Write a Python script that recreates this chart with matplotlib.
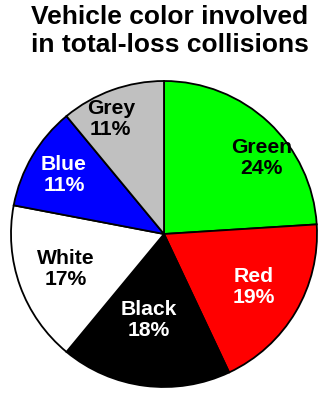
import numpy as np
import matplotlib
matplotlib.use("Agg")
import matplotlib.pyplot as plt

categories = ["Green", "Red", "Black", "White", "Blue", "Grey"]
values = [24, 19, 18, 17, 11, 11]
colors = ["#00FF00", "#FF0000", "#000000", "#FFFFFF", "#0000FF", "#C0C0C0"]
text_colors = ["black", "white", "white", "black", "white", "black"]
title_lines = ["Vehicle color involved", "in total-loss collisions"]

# label placement (fraction of radius, angular nudge in degrees)
label_r = [0.81, 0.68, 0.57, 0.68, 0.76, 0.83]
label_nudge = [-9, 0, -3, 0, 0, 5]

W, H = 330, 394
fig = plt.figure(figsize=(W / 100, H / 100), dpi=100)
ax = fig.add_axes([0, 0, 1, 1])
ax.set_xlim(0, W)
ax.set_ylim(0, H)
ax.set_aspect("equal")
ax.axis("off")

cx, cy, R = 164, H - 234, 153
wedges, _ = ax.pie(values, colors=colors, startangle=90, counterclock=False,
                   center=(cx, cy), radius=R,
                   wedgeprops=dict(edgecolor="black", linewidth=1.3))
ax.set_xlim(0, W)
ax.set_ylim(0, H)

fam = ["Liberation Sans", "DejaVu Sans"]
for w, cat, v, tc, rf, nd in zip(wedges, categories, values, text_colors, label_r, label_nudge):
    ang = np.deg2rad((w.theta1 + w.theta2) / 2 + nd)
    x = cx + rf * R * np.cos(ang)
    y = cy + rf * R * np.sin(ang)
    t = ax.text(x, y, f"{cat}\n{v}%", ha="center", va="center", color=tc,
                fontsize=15.2, fontweight="bold", family=fam, linespacing=1.15,
                zorder=3)
    t.set_clip_path(w)

fig.text(170 / W, 1 - 17 / H, title_lines[0], ha="center", va="center",
         fontsize=19, fontweight="bold", family=fam)
fig.text(170 / W, 1 - 45 / H, title_lines[1], ha="center", va="center",
         fontsize=19, fontweight="bold", family=fam)

fig.savefig("out.png", dpi=100, facecolor="white")
